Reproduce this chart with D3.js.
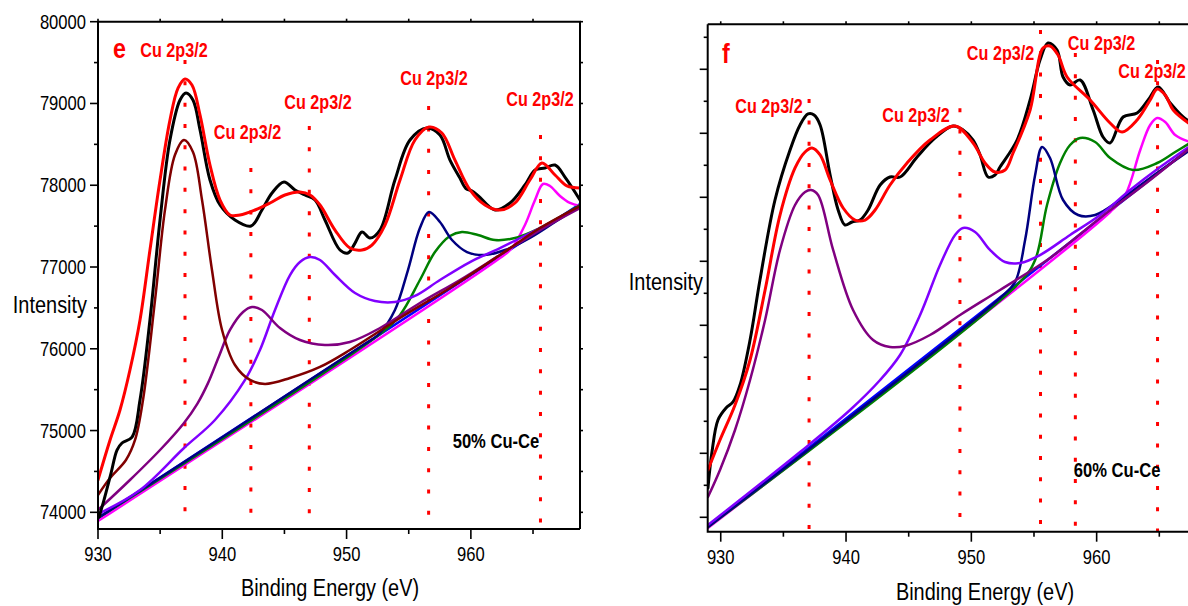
<!DOCTYPE html>
<html><head><meta charset="utf-8">
<script src="https://cdn.jsdelivr.net/npm/d3@7"></script>
<style>body{margin:0;background:#fff}svg{display:block}</style>
</head><body>
<svg id="chart" width="1188" height="606"></svg>
<script>
// ---------- Panel e : 50% Cu-Ce, Cu 2p XPS (binding energy eV, intensity counts) ----------
const eBlack = [[930.08,73942],[930.48,74150],[931.05,74480],[931.53,74762],[931.93,74848],[932.74,74921],[933.38,75374],[934.18,76352],[934.99,77575],[935.79,78553],[936.6,79042],[937.08,79128],[937.64,79042],[938.21,78675],[939.01,78064],[939.82,77758],[941.02,77575],[942.31,77501],[943.19,77697],[944.0,77905],[944.96,78040],[945.85,77942],[946.65,77881],[947.46,77819],[948.26,77575],[949.47,77208],[950.11,77171],[950.68,77293],[951.24,77428],[951.88,77354],[952.69,77452],[953.89,78064],[955.1,78553],[956.47,78700],[957.51,78614],[958.32,78308],[959.12,78088],[959.6,77960],[960.1,77930],[960.6,77870],[961.94,77697],[963.15,77783],[964.35,78003],[965.16,78186],[965.96,78211],[966.77,78247],[967.57,78100],[968.78,77820]];
const eFit = [[930.0,74395],[930.97,74884],[931.77,75251],[932.57,75740],[933.38,76352],[934.18,77208],[934.99,78064],[935.79,78797],[936.44,79188],[937.0,79299],[937.56,79225],[938.21,78858],[939.01,78247],[939.82,77819],[940.62,77636],[941.42,77636],[942.63,77697],[943.84,77783],[945.04,77881],[946.25,77918],[947.06,77881],[947.86,77758],[949.07,77452],[950.27,77232],[951.24,77208],[952.04,77269],[953.09,77513],[954.3,78064],[955.5,78553],[956.63,78712],[957.67,78639],[958.72,78308],[959.93,77942],[961.13,77758],[962.34,77697],[963.55,77783],[964.75,78064],[965.72,78272],[966.77,78125],[967.73,77991],[968.78,77966]];
const eBaseline = [[930.0,73930],[968.78,77770]];
const eMaroon = [[930.0,74212],[930.97,74420],[932.25,74640],[932.98,74885],[933.62,75374],[934.59,76597],[935.39,77698],[936.19,78370],[936.92,78554],[937.64,78407],[938.37,77820],[939.17,76964],[939.98,76230],[941.02,75802],[942.23,75619],[943.44,75570],[945.45,75643],[947.86,75778],[950.27,75985],[954.3,76377],[958.32,76744],[962.34,77147],[965.56,77477],[968.78,77746]];
const ePurple = [[930.0,74028],[932.57,74395],[934.99,74762],[936.92,75093],[938.0,75330],[938.85,75580],[939.71,75900],[940.62,76230],[941.67,76450],[942.39,76511],[943.19,76474],[944.64,76254],[946.25,76107],[948.26,76046],[950.27,76083],[952.69,76254],[955.9,76560],[959.12,76841],[962.34,77147],[965.56,77452],[968.78,77721]];
const eViolet = [[930.0,73979],[933.38,74273],[936.92,74787],[939.41,75129],[941.83,75619],[943.03,75985],[944.24,76474],[945.45,76902],[946.25,77061],[947.06,77122],[947.86,77086],[949.07,76902],[950.68,76682],[952.28,76584],[953.89,76572],[955.5,76646],[957.51,76841],[959.93,77061],[962.34,77232],[965.56,77477],[968.78,77734]];
const eNavy = [[930.0,73930],[951.08,76021],[952.69,76193],[953.89,76474],[954.94,76963],[955.9,77477],[956.63,77672],[957.51,77550],[958.48,77330],[959.69,77183],[961.13,77147],[962.74,77208],[964.75,77355],[966.77,77550],[968.78,77746]];
const eGreen = [[930.0,73930],[952.69,76181],[954.3,76413],[955.9,76841],[957.11,77183],[958.32,77379],[959.28,77428],[960.57,77391],[961.94,77330],[963.55,77355],[965.56,77477],[967.17,77611],[968.78,77758]];
const eMagenta = [[930.0,73893],[962.34,77110],[963.31,77232],[964.35,77514],[965.16,77819],[965.8,78015],[966.36,77991],[967.17,77868],[967.97,77783],[968.78,77746]];
const ePeakLines = [[937.0,79531],[942.3,78211],[947.0,78725],[956.6,78968],[965.6,78614]];

// ---------- Panel f : 60% Cu-Ce ----------
const fBlack = [[928.98,73458],[929.3,74020],[929.78,74520],[930.42,74708],[930.98,74802],[931.54,75067],[932.34,75770],[933.13,76708],[934.33,77958],[935.53,78739],[936.33,79130],[936.97,79302],[937.45,79286],[937.93,79130],[938.73,78348],[939.37,77802],[939.92,77567],[940.48,77614],[941.12,77645],[941.76,77802],[942.72,78192],[943.51,78317],[944.31,78317],[945.67,78630],[947.11,78927],[948.54,79114],[949.34,79052],[950.14,78895],[950.7,78661],[951.34,78317],[951.89,78348],[952.29,78473],[953.65,78895],[954.69,79520],[955.48,80145],[956.12,80411],[956.84,80302],[957.32,79880],[957.88,79755],[958.68,79833],[959.72,79364],[960.51,78942],[961.07,78848],[962.11,79255],[963.23,79317],[964.11,79520],[964.91,79723],[965.87,79473],[966.9,79255],[967.45,79177]];
const fFit = [[928.98,73739],[929.94,74208],[931.14,74755],[932.34,75458],[933.54,76552],[934.73,77723],[935.93,78458],[936.73,78708],[937.29,78770],[937.93,78661],[938.73,78270],[939.77,77833],[940.72,77645],[941.52,77645],[942.32,77802],[943.51,78192],[944.87,78536],[946.7,78895],[948.7,79114],[950.14,78848],[951.09,78536],[951.89,78395],[952.69,78427],[953.33,78692],[954.69,79364],[955.72,80333],[956.28,80364],[956.92,80223],[957.64,79880],[959.48,79520],[961.07,79161],[962.03,79020],[963.23,79208],[964.27,79520],[964.83,79692],[965.47,79598],[966.11,79364],[967.45,79145]];
const fBaseline = [[928.98,72849],[967.45,78769]];
const fPurple = [[928.98,73317],[929.94,73739],[931.14,74364],[932.34,75145],[933.54,76083],[934.73,77177],[935.93,77880],[936.73,78083],[937.21,78114],[937.77,78036],[938.97,77177],[940.56,76239],[942.16,75770],[943.51,75661],[944.71,75677],[946.7,75848],[949.1,76161],[952.29,76552],[956.28,77052],[960.28,77677],[964.27,78270],[967.45,78770]];
const fViolet = [[928.98,72880],[936.33,74020],[940.32,74677],[942.72,75145],[944.31,75536],[945.91,76161],[947.5,76942],[948.7,77411],[949.34,77520],[950.3,77458],[951.49,77177],[952.69,76989],[953.89,76973],[955.48,77098],[957.88,77411],[960.28,77723],[962.67,78114],[965.07,78473],[967.45,78801]];
const fNavy = [[928.98,72849],[952.29,76427],[953.49,76677],[954.29,77333],[955.09,78348],[955.65,78786],[956.28,78614],[957.32,77958],[958.52,77723],[959.88,77723],[961.87,77958],[964.27,78302],[967.45,78739]];
const fGreen = [[928.98,72849],[953.89,76677],[955.09,77020],[956.04,77880],[957.08,78536],[957.88,78817],[958.68,78927],[959.88,78864],[961.08,78614],[962.91,78427],[964.83,78536],[966.27,78708],[967.45,78848]];
const fMagenta = [[928.98,72833],[961.08,77770],[962.28,78036],[963.48,78739],[964.27,79130],[964.83,79239],[965.47,79177],[966.27,78973],[967.45,78864]];
const fPeakLines = [[937.05,79534],[949.09,79392],[955.52,80614],[958.3,80254],[964.86,80145]];

const xTicksMajor = [930,940,950,960];
const xTicksMinor = [935,945,955,965];
const peakName = "Cu 2p3/2";
const axisTitleX = "Binding Energy (eV)";
const axisTitleY = "Intensity";

// label anchor points (energy, intensity) for annotations
const eLabels = [[936.11,79568],[942.03,78565],[947.7,78932],[957.03,79226],[965.56,78969]];
const fLabels = [[933.85,79317],[945.58,79177],[952.33,80145],[960.39,80302],[964.42,79864]];

const svg = d3.select("#chart");
const FONT = "'Liberation Sans', Arial, sans-serif";
const SX = 0.83;   // horizontal condensing of the text face

function narrowText(g, x, y, str, opt) {
  return g.append("text")
    .attr("transform", `translate(${x},${y}) scale(${SX},1)`)
    .attr("font-family", FONT)
    .attr("font-size", opt.size)
    .attr("font-weight", opt.weight || "normal")
    .attr("fill", opt.fill || "#000")
    .attr("text-anchor", opt.anchor || "start")
    .text(str);
}

function drawPanel(p) {
  const x = d3.scaleLinear().domain(p.xDomain).range(p.xRange);
  const y = d3.scaleLinear().domain(p.yDomain).range(p.yRange);
  const g = svg.append("g");
  const clipId = "clip" + p.id;
  svg.append("clipPath").attr("id", clipId).append("rect")
    .attr("x", p.xRange[0]).attr("y", p.yRange[1])
    .attr("width", p.xRange[1] - p.xRange[0]).attr("height", p.yRange[0] - p.yRange[1]);

  const plot = g.append("g").attr("clip-path", `url(#${clipId})`);
  const line = d3.line().x(d => x(d[0])).y(d => y(d[1])).curve(d3.curveCatmullRom.alpha(0.5));

  // dotted peak markers
  p.peakLines.forEach(d => {
    plot.append("line")
      .attr("x1", x(d[0])).attr("x2", x(d[0]))
      .attr("y1", y(d[1])).attr("y2", y(p.yDomain[0]))
      .attr("stroke", "#ff0000").attr("stroke-width", 3)
      .attr("stroke-dasharray", "4 17.3");
  });

  p.series.forEach(s => {
    plot.append("path").datum(s.data)
      .attr("d", line).attr("fill", "none")
      .attr("stroke", s.color).attr("stroke-width", s.w)
      .attr("stroke-linejoin", "round").attr("stroke-linecap", "round");
  });

  // frame
  const [x0, x1] = p.xRange, [yb, yt] = p.yRange;
  g.append("path")
    .attr("d", `M${x0},${yt}H${x1}${p.rightEdge ? `V${yb}` : ""}M${x0},${yt}V${yb}H${x1}`)
    .attr("fill", "none").attr("stroke", "#000").attr("stroke-width", 2);

  const tick = (xa, ya, xb, yb_) => g.append("line")
    .attr("x1", xa).attr("y1", ya).attr("x2", xb).attr("y2", yb_)
    .attr("stroke", "#000").attr("stroke-width", 1.6);

  // bottom axis
  xTicksMajor.forEach(v => {
    tick(x(v), yb, x(v), yb + 10);
    narrowText(g, x(v), p.xLabelBase, String(v), {size: 20, anchor: "middle"});
  });
  xTicksMinor.forEach(v => tick(x(v), yb, x(v), yb + 5));
  // top axis
  xTicksMajor.concat(xTicksMinor).forEach(v => tick(x(v), yt, x(v), yt - 3));

  // y axes
  p.yTicks.forEach(v => {
    const major = v % 1000 === 0;
    tick(x0, y(v), x0 - (major ? 8 : 4), y(v));
    if (p.rightEdge) tick(x1, y(v), x1 + 3, y(v));
    if (p.yLabels && major)
      narrowText(g, x0 - 12, y(v) + 7, String(v), {size: 20, anchor: "end"});
  });

  narrowText(g, p.titleX[0], p.titleX[1], axisTitleX, {size: 24, anchor: "middle"});
  narrowText(g, p.titleY[0], p.titleY[1], axisTitleY, {size: 24, anchor: "end"});

  // annotations
  narrowText(g, x(p.letterPos[0]), y(p.letterPos[1]), p.letter, {size: 28, weight: "bold", fill: "#ff0000"});
  p.labels.forEach(d => narrowText(g, x(d[0]), y(d[1]), peakName, {size: 19.5, weight: "bold", fill: "#ff0000", anchor: "middle"}));
  narrowText(g, x(p.samplePos[0]), y(p.samplePos[1]), p.sample, {size: 20, weight: "bold", anchor: "middle"});
}

const compStyle = (data, color) => ({data, color, w: 2.5});

drawPanel({
  id: "e", xDomain: [930, 968.78], xRange: [98, 580],
  yDomain: [73796, 80000], yRange: [529, 21.7],
  yTicks: d3.range(74000, 80001, 500), yLabels: true, rightEdge: true,
  peakLines: ePeakLines, labels: eLabels,
  letter: "e", letterPos: [931.21, 79556],
  sample: "50% Cu-Ce", samplePos: [962.02, 74786],
  xLabelBase: 561, titleX: [330, 596], titleY: [87, 313],
  series: [
    compStyle(eBaseline, "#0000ff"), compStyle(eMagenta, "#ff00ff"),
    compStyle(eGreen, "#008000"), compStyle(eNavy, "#000080"),
    compStyle(eViolet, "#8000ff"), compStyle(ePurple, "#800080"),
    compStyle(eMaroon, "#800000"),
    {data: eBlack, color: "#000000", w: 3}, {data: eFit, color: "#ff0000", w: 3}
  ]
});

drawPanel({
  id: "f", xDomain: [928.96, 967.45], xRange: [707.7, 1190],
  yDomain: [72775, 80703], yRange: [531.7, 24.3],
  yTicks: d3.range(73000, 80501, 500), yLabels: false, rightEdge: false,
  peakLines: fPeakLines, labels: fLabels,
  letter: "f", letterPos: [930.1, 80098],
  sample: "60% Cu-Ce", samplePos: [961.63, 73630],
  xLabelBase: 564, titleX: [985, 600], titleY: [703, 290],
  series: [
    compStyle(fBaseline, "#0000ff"), compStyle(fMagenta, "#ff00ff"),
    compStyle(fGreen, "#008000"), compStyle(fNavy, "#000080"),
    compStyle(fViolet, "#8000ff"), compStyle(fPurple, "#800080"),
    {data: fBlack, color: "#000000", w: 3}, {data: fFit, color: "#ff0000", w: 3}
  ]
});
</script>
</body></html>
